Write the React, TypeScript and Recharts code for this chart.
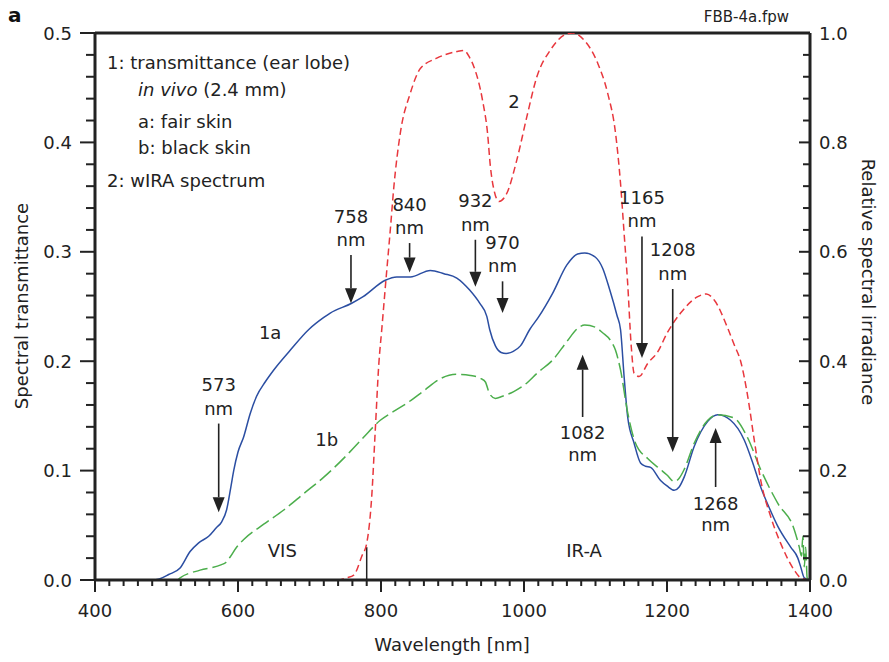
import {
  Customized,
  Line,
  LineChart,
  ReferenceDot,
  ReferenceLine,
  XAxis,
  YAxis,
} from "recharts";

const FONT = "'DejaVu Sans', 'Liberation Sans', sans-serif";
const INK = "#222";
const BLUE = "#2b4ea2";
const GREEN = "#4cae4c";
const RED = "#e8373d";

// 1a: transmittance, fair skin (left axis)
const fairNm = [
  400, 480, 490, 503, 519, 533, 545, 559, 570, 577, 584, 590, 594, 600, 608, 617, 626, 638, 650, 673,
  699, 720, 729, 759, 775, 806, 822, 841, 869, 888, 906, 924, 938, 948, 952, 960, 968, 975, 985, 995,
  1008, 1020, 1040, 1060, 1075, 1085, 1100, 1110, 1120, 1130, 1135, 1140, 1145, 1154, 1163, 1170,
  1177, 1191, 1200, 1210, 1217, 1224, 1238, 1257, 1271, 1289, 1308, 1320, 1331, 1343, 1355, 1373,
  1383, 1387, 1392, 1400,
];
const fairT = [
  0, 0, 0.001, 0.005, 0.011, 0.026, 0.034, 0.04, 0.048, 0.053, 0.064, 0.085, 0.1, 0.117, 0.131, 0.152,
  0.168, 0.181, 0.192, 0.21, 0.229, 0.24, 0.244, 0.253, 0.259, 0.274, 0.277, 0.277, 0.283, 0.28, 0.276,
  0.265, 0.253, 0.241, 0.229, 0.214, 0.208, 0.207, 0.209, 0.214, 0.229, 0.24, 0.262, 0.288, 0.298,
  0.299, 0.295, 0.285, 0.265, 0.242, 0.229, 0.186, 0.149, 0.125, 0.107, 0.104, 0.103, 0.091, 0.086,
  0.082, 0.085, 0.094, 0.122, 0.145, 0.151, 0.146, 0.128, 0.107, 0.085, 0.066, 0.049, 0.03, 0.02,
  0.012, 0.002, 0,
];

// 1b: transmittance, black skin (left axis)
const blackNm = [
  400, 515, 519, 547, 577, 583, 589, 598, 608, 636, 664, 692, 720, 752, 775, 799, 820, 837, 860, 883,
  906, 925, 940, 946, 952, 960, 970, 985, 1000, 1020, 1040, 1060, 1075, 1085, 1100, 1110, 1121, 1128,
  1135, 1145, 1156, 1173, 1191, 1200, 1210, 1217, 1224, 1238, 1257, 1271, 1294, 1312, 1331, 1355,
  1378, 1385, 1388, 1390, 1392, 1394, 1396, 1400,
];
const blackT = [
  0, 0, 0.002, 0.009, 0.014, 0.016, 0.021, 0.03, 0.037, 0.051, 0.064, 0.079, 0.094, 0.114, 0.13, 0.146,
  0.155, 0.162, 0.173, 0.184, 0.188, 0.187, 0.184, 0.181, 0.17, 0.166, 0.168, 0.172, 0.178, 0.19,
  0.201, 0.218, 0.23, 0.233, 0.231, 0.226, 0.219, 0.21, 0.192, 0.153, 0.125, 0.111, 0.101, 0.096, 0.09,
  0.093, 0.101, 0.125, 0.146, 0.151, 0.148, 0.131, 0.101, 0.07, 0.046, 0.03, 0.022, 0.04, 0.012, 0.03,
  0.002, 0,
];

// 2: wIRA spectrum, relative irradiance (right axis)
const wiraNm = [
  400, 740, 752, 762, 773, 780, 787, 792, 797, 801, 807, 813, 818, 827, 841, 855, 878, 906, 916, 924,
  930, 942, 949, 953, 958, 965, 976, 990, 1004, 1018, 1037, 1056, 1068, 1084, 1103, 1117, 1128, 1135,
  1140, 1145, 1150, 1154, 1161, 1173, 1187, 1200, 1219, 1243, 1255, 1266, 1285, 1294, 1303, 1313,
  1322, 1331, 1345, 1359, 1378, 1387, 1400,
];
const wiraR = [
  0, 0, 0.004, 0.009, 0.043, 0.067, 0.152, 0.274, 0.396, 0.457, 0.55, 0.64, 0.719, 0.817, 0.89, 0.935,
  0.954, 0.966, 0.968, 0.955, 0.938, 0.877, 0.817, 0.756, 0.713, 0.692, 0.707, 0.768, 0.847, 0.92,
  0.969, 0.996, 1.0, 0.987, 0.945, 0.89, 0.817, 0.725, 0.634, 0.542, 0.427, 0.378, 0.372, 0.396, 0.417,
  0.451, 0.488, 0.518, 0.523, 0.512, 0.46, 0.43, 0.4, 0.335, 0.256, 0.183, 0.116, 0.067, 0.018, 0.004,
  0,
];

// marked wavelengths: arrow from -> to (left axis units)
const arrowNm = [573, 758, 840, 932, 970, 1082, 1165, 1208, 1268];
const arrowFrom = [0.143, 0.297, 0.308, 0.311, 0.273, 0.149, 0.314, 0.266, 0.085];
const arrowTo = [0.062, 0.253, 0.281, 0.268, 0.244, 0.206, 0.203, 0.117, 0.139];

// curve / band labels
const curveLabels = ["1a", "1b", "2", "VIS", "IR-A"];
const curveLabelNm = [645, 724, 986, 662, 1084];
const curveLabelT = [0.226, 0.128, 0.437, 0.027, 0.027];

const xMajor = [400, 600, 800, 1000, 1200, 1400];
const leftMajor = [0, 0.1, 0.2, 0.3, 0.4, 0.5];
const rightMajor = [0, 0.2, 0.4, 0.6, 0.8, 1.0];

const xTicks = Array.from({ length: 51 }, (_, i) => 400 + i * 20);
const leftTicks = Array.from({ length: 26 }, (_, i) => Math.round(i * 2) / 100);
const rightTicks = Array.from({ length: 26 }, (_, i) => Math.round(i * 4) / 100);

const toPoints = (nm: number[], v: number[]) => nm.map((x, i) => ({ nm: x, v: v[i] }));
const fairData = toPoints(fairNm, fairT);
const blackData = toPoints(blackNm, blackT);
const wiraData = toPoints(wiraNm, wiraR);

const isMajor = (v: number, list: number[]) => list.some((m) => Math.abs(m - v) < 1e-6);

const textStyle = { fontFamily: FONT, fontSize: 18, fill: INK };

function BottomTick(props: any) {
  const { x, y, payload } = props;
  const major = isMajor(payload.value, xMajor);
  return (
    <g>
      <line x1={x} x2={x} y1={y} y2={y + (major ? 12 : 6)} stroke={INK} strokeWidth={2} />
      {major && (
        <text x={x} y={y + 37} textAnchor="middle" style={textStyle}>
          {payload.value}
        </text>
      )}
    </g>
  );
}

function LeftTick(props: any) {
  const { x, y, payload } = props;
  const major = isMajor(payload.value, leftMajor);
  return (
    <g>
      <line x1={x - (major ? 15 : 9)} x2={x} y1={y} y2={y} stroke={INK} strokeWidth={2} />
      {major && (
        <text x={x - 23} y={y + 6.5} textAnchor="end" style={textStyle}>
          {payload.value.toFixed(1)}
        </text>
      )}
    </g>
  );
}

function RightTick(props: any) {
  const { x, y, payload } = props;
  const major = isMajor(payload.value, rightMajor);
  return (
    <g>
      <line x1={x - (major ? 11 : 7)} x2={x} y1={y} y2={y} stroke={INK} strokeWidth={2} />
      {major && (
        <text x={x + 9} y={y + 6.5} textAnchor="start" style={textStyle}>
          {payload.value.toFixed(1)}
        </text>
      )}
    </g>
  );
}

// shaft + head at the (x2, y2) end, two-line label beyond the tail
function Arrow(props: any) {
  const { x1, y1, x2, y2, nm } = props;
  const dir = y2 > y1 ? 1 : -1;
  const headLen = 15;
  const headHalf = 6;
  const baseY = y2 - dir * headLen;
  const up = dir < 0;
  const line1 = up ? y1 + 16 : y1 - 39;
  const line2 = up ? y1 + 38 : y1 - 15;
  return (
    <g>
      <line x1={x1} y1={y1} x2={x2} y2={baseY} stroke={INK} strokeWidth={1.6} />
      <polygon
        points={`${x2 - headHalf},${baseY} ${x2 + headHalf},${baseY} ${x2},${y2}`}
        fill={INK}
      />
      <text x={x1} y={line1 + 6.5} textAnchor="middle" style={textStyle}>
        {nm}
      </text>
      <text x={x1} y={line2 + 6} textAnchor="middle" style={textStyle}>
        nm
      </text>
    </g>
  );
}

function Annotations() {
  return (
    <g>
      <text x={8} y={22} style={{ fontFamily: FONT, fontSize: 20, fontWeight: 700, fill: "#111" }}>
        a
      </text>
      <text x={789} y={22} textAnchor="end" style={{ ...textStyle, fontSize: 15 }}>
        FBB-4a.fpw
      </text>
      <text x={107} y={69} style={textStyle}>
        1: transmittance (ear lobe)
      </text>
      <text x={138} y={96} style={textStyle}>
        <tspan fontStyle="italic">in vivo</tspan>
        <tspan> (2.4 mm)</tspan>
      </text>
      <text x={138} y={128} style={textStyle}>
        a: fair skin
      </text>
      <text x={138} y={154} style={textStyle}>
        b: black skin
      </text>
      <text x={107} y={187} style={textStyle}>
        2: wIRA spectrum
      </text>
      <text
        x={28}
        y={306}
        textAnchor="middle"
        transform="rotate(-90 28 306)"
        style={textStyle}
      >
        Spectral transmittance
      </text>
      <text
        x={862}
        y={282}
        textAnchor="middle"
        transform="rotate(90 862 282)"
        style={textStyle}
      >
        Relative spectral irradiance
      </text>
      <text x={452} y={651} textAnchor="middle" style={textStyle}>
        Wavelength [nm]
      </text>
    </g>
  );
}

export default function App() {
  return (
    <div style={{ position: "absolute", left: 0, top: 0, width: 889, height: 662, background: "#fff" }}>
      <LineChart width={889} height={662} margin={{ top: 33, right: 0, bottom: 0, left: 0 }}>
        <XAxis
          type="number"
          dataKey="nm"
          domain={[400, 1400]}
          ticks={xTicks}
          interval={0}
          tickSize={0}
          tickMargin={0}
          tickLine={false}
          tick={<BottomTick />}
          axisLine={{ stroke: INK, strokeWidth: 3 }}
          height={82}
          allowDataOverflow
        />
        <YAxis
          yAxisId="left"
          orientation="left"
          type="number"
          domain={[0, 0.5]}
          ticks={leftTicks}
          interval={0}
          tickSize={0}
          tickMargin={0}
          tickLine={false}
          tick={<LeftTick />}
          axisLine={{ stroke: INK, strokeWidth: 3 }}
          width={95}
          allowDataOverflow
        />
        <YAxis
          yAxisId="right"
          orientation="right"
          type="number"
          domain={[0, 1]}
          ticks={rightTicks}
          interval={0}
          tickSize={0}
          tickMargin={0}
          tickLine={false}
          tick={<RightTick />}
          axisLine={{ stroke: INK, strokeWidth: 3 }}
          width={79}
          allowDataOverflow
        />
        <ReferenceLine yAxisId="left" y={0.5} stroke={INK} strokeWidth={3} />
        <ReferenceLine
          yAxisId="left"
          segment={[
            { x: 780, y: 0 },
            { x: 780, y: 0.03 },
          ]}
          stroke={INK}
          strokeWidth={1.5}
        />
        <Line
          yAxisId="left"
          data={fairData}
          dataKey="v"
          type="monotone"
          stroke={BLUE}
          strokeWidth={1.5}
          dot={false}
          activeDot={false}
          isAnimationActive={false}
        />
        <Line
          yAxisId="left"
          data={blackData}
          dataKey="v"
          type="monotone"
          stroke={GREEN}
          strokeWidth={1.5}
          strokeDasharray="15 5"
          dot={false}
          activeDot={false}
          isAnimationActive={false}
        />
        <Line
          yAxisId="right"
          data={wiraData}
          dataKey="v"
          type="monotone"
          stroke={RED}
          strokeWidth={1.5}
          strokeDasharray="7 4"
          dot={false}
          activeDot={false}
          isAnimationActive={false}
        />
        {arrowNm.map((nm, i) => (
          <ReferenceLine
            key={nm}
            yAxisId="left"
            segment={[
              { x: nm, y: arrowFrom[i] },
              { x: nm, y: arrowTo[i] },
            ]}
            shape={(p: any) => <Arrow {...p} nm={nm} />}
          />
        ))}
        {curveLabels.map((label, i) => (
          <ReferenceDot
            key={label}
            yAxisId="left"
            x={curveLabelNm[i]}
            y={curveLabelT[i]}
            shape={(p: any) => (
              <text x={p.cx} y={p.cy + 6.5} textAnchor="middle" style={textStyle}>
                {label}
              </text>
            )}
          />
        ))}
        <Customized component={Annotations} />
      </LineChart>
    </div>
  );
}
